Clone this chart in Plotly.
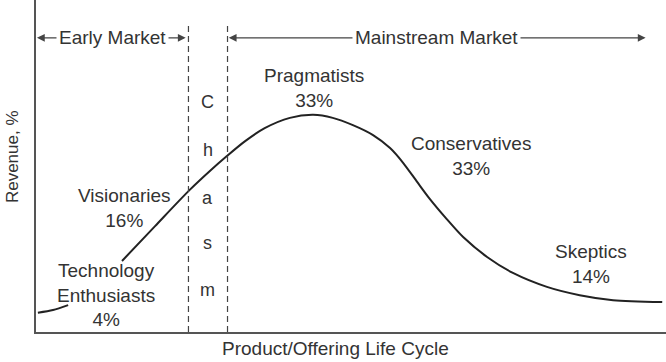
import plotly.graph_objects as go

# Curve of revenue across the product/offering life cycle (None marks the part hidden behind the label)
cycle_x = [0.3, 2.7, 5.1, None, 13.65, 18.9, 24.4, 27.6, 30.3, 33.2, 36.3, 40.3, 44.0,
           47.1, 50.3, 53.5, 56.2, 58.3, 60.5, 62.5, 65.2, 67.8, 71.6, 75.7, 81.1, 86.3, 91.6, 99.4]
revenue = [5.8, 6.6, 8.1, None, 21.4, 31.9, 42.8, 48.5, 53.0, 57.5, 61.4, 64.5, 65.4,
           64.5, 62.3, 59.3, 55.4, 50.9, 45.2, 40.1, 34.0, 28.6, 22.6, 17.8, 13.6, 11.1, 9.6, 9.0]

segments = ["Technology<br>Enthusiasts<br>4%", "Visionaries<br>16%", "Pragmatists<br>33%",
            "Conservatives<br>33%", "Skeptics<br>14%"]
segment_x = [11.1, 14.1, 44.1, 69.0, 88.1]
segment_y = [11.0, 37.5, 73.5, 53.0, 20.5]

chasm_letters = ["C", "h", "a", "s", "m"]
chasm_letter_y = [69.3, 54.8, 40.4, 26.8, 12.7]
chasm_bounds = [24.2, 30.4]

markets = ["Early Market", "Mainstream Market"]
market_span = [(0.15, 24.0), (30.6, 97.0)]
market_label_x = [12.2, 63.5]
market_y = 88.6

FONT = "Liberation Sans"
TXT = "#333333"
FS = 19
fig = go.Figure()
fig.add_trace(go.Scatter(x=cycle_x, y=revenue, mode="lines",
                         line=dict(color="#222222", width=2, shape="spline", smoothing=0.8),
                         connectgaps=False, hoverinfo="skip", showlegend=False))

shapes = []
for b in chasm_bounds:
    shapes.append(dict(type="line", xref="x", yref="y", x0=b, x1=b, y0=0, y1=93.1,
                       line=dict(color="#444444", width=1.2, dash="6px,4px")))

ann = []
for (a0, a1) in market_span:
    ann.append(dict(x=a0, y=market_y, ax=a1, ay=market_y, xref="x", yref="y", axref="x", ayref="y",
                    text="", showarrow=True, arrowhead=2, startarrowhead=2, arrowside="end+start",
                    arrowsize=1.3, startarrowsize=1.3, arrowwidth=1.2, arrowcolor="#444444"))
for t, x in zip(markets, market_label_x):
    ann.append(dict(x=x, y=market_y, xref="x", yref="y", text=t, showarrow=False, bgcolor="white",
                    borderpad=2, font=dict(family=FONT, size=FS, color=TXT)))
for t, x, y in zip(segments, segment_x, segment_y):
    ann.append(dict(x=x, y=y, xref="x", yref="y", text=t, showarrow=False, align="center",
                    font=dict(family=FONT, size=FS, color=TXT)))
for t, y in zip(chasm_letters, chasm_letter_y):
    ann.append(dict(x=sum(chasm_bounds) / 2, y=y, xref="x", yref="y", text=t, showarrow=False,
                    font=dict(family=FONT, size=18, color=TXT)))
ann.append(dict(x=0.476, y=-0.05, xref="paper", yref="paper", text="Product/Offering Life Cycle",
                showarrow=False, yanchor="middle", font=dict(family=FONT, size=FS, color=TXT)))
ann.append(dict(x=-0.038, y=0.527, xref="paper", yref="paper", text="Revenue, %", textangle=-90,
                showarrow=False, xanchor="center", yanchor="middle", font=dict(family=FONT, size=17, color=TXT)))

fig.update_layout(
    width=666, height=362, margin=dict(l=36, r=0, t=0, b=30),
    paper_bgcolor="white", plot_bgcolor="white", showlegend=False,
    shapes=shapes, annotations=ann,
    xaxis=dict(range=[0, 100], showgrid=False, zeroline=False, showticklabels=False, ticks="",
               showline=True, linecolor="#555555", linewidth=1.5),
    yaxis=dict(range=[0, 100], showgrid=False, zeroline=False, showticklabels=False, ticks="",
               showline=True, linecolor="#555555", linewidth=1.5),
)
fig.write_html("out.html", config={"displayModeBar": False},
               post_script="document.body.style.margin='0px';document.body.style.overflow='hidden';")
